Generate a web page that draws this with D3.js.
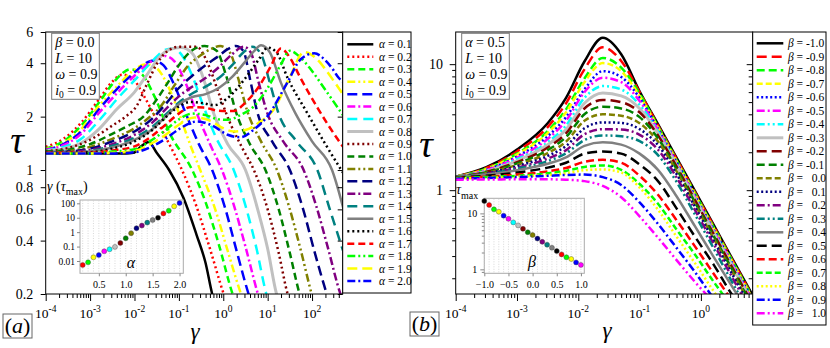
<!DOCTYPE html>
<html>
<head>
<meta charset="utf-8">
<script src="https://cdn.jsdelivr.net/npm/d3@7/dist/d3.min.js"></script>
<style>
  body { margin: 0; background: #fff; }
  svg { display: block; }
  text { font-family: "Liberation Serif", "Times New Roman", serif; fill: #000; }
</style>
</head>
<body>
<svg></svg>
<script>
// ---------- data, panel (a): tau vs gamma, points are [log10(gamma), tau] ----------
const alphas = [0.1, 0.2, 0.3, 0.4, 0.5, 0.6, 0.7, 0.8, 0.9, 1.0,
                1.1, 1.2, 1.3, 1.4, 1.5, 1.6, 1.7, 1.8, 1.9, 2.0];

const tauA01 = [[-4,1.24],[-3,1.24],[-2.2,1.24],[-2.02,1.25],[-1.85,1.36],[-1.68,1.44],[-1.5,1.25],[-1.22,1.0],[-0.9,0.7],[-0.6,0.43],[-0.4,0.3],[-0.25,0.2],[-0.1,0.15]];
const tauA02 = [[-4,1.35],[-3.6,1.5],[-3.2,1.85],[-2.8,2.5],[-2.5,3.15],[-2.28,3.45],[-2.05,3.3],[-1.8,2.65],[-1.42,1.75],[-1.15,1.3],[-0.93,1.0],[-0.6,0.62],[-0.3,0.36],[0.01,0.2],[0.15,0.16]];
const tauA03 = [[-4,1.32],[-3.6,1.45],[-3.2,1.78],[-2.8,2.4],[-2.5,3.05],[-2.25,3.55],[-2.09,3.7],[-1.85,3.5],[-1.55,2.6],[-1.2,1.6],[-0.7,1.0],[-0.4,0.66],[-0.1,0.38],[0.21,0.2],[0.35,0.16]];
const tauA04 = [[-4,1.31],[-3.6,1.42],[-3.2,1.7],[-2.8,2.3],[-2.4,2.95],[-2.05,3.6],[-1.74,3.95],[-1.5,3.75],[-1.25,3.0],[-1.0,2.1],[-0.75,1.4],[-0.52,1.0],[-0.2,0.62],[0.1,0.35],[0.4,0.2],[0.55,0.16]];
const tauA05 = [[-4,1.3],[-3.6,1.4],[-3.2,1.65],[-2.8,2.2],[-2.4,2.85],[-2.0,3.55],[-1.75,4.0],[-1.58,4.15],[-1.35,3.9],[-1.1,3.0],[-0.85,2.1],[-0.55,1.4],[-0.25,1.0],[0.05,0.6],[0.3,0.35],[0.57,0.2],[0.7,0.16]];
const tauA06 = [[-4,1.3],[-3.6,1.38],[-3.2,1.6],[-2.8,2.1],[-2.4,2.7],[-2.0,3.4],[-1.65,4.05],[-1.33,4.4],[-1.1,4.1],[-0.85,3.1],[-0.6,2.1],[-0.3,1.4],[-0.03,1.0],[0.25,0.62],[0.5,0.37],[0.78,0.2],[0.9,0.16]];
const tauA07 = [[-4,1.29],[-3.6,1.35],[-3.2,1.5],[-2.8,1.9],[-2.4,2.5],[-2.0,3.2],[-1.6,4.1],[-1.35,4.7],[-1.15,4.85],[-0.95,4.5],[-0.7,3.4],[-0.45,2.3],[-0.15,1.5],[0.235,1.0],[0.5,0.63],[0.75,0.36],[0.97,0.2],[1.1,0.16]];
const tauA08 = [[-4,1.28],[-3.6,1.32],[-3.2,1.42],[-2.8,1.7],[-2.4,2.2],[-2.0,2.75],[-1.7,3.5],[-1.45,4.3],[-1.2,4.8],[-0.95,4.9],[-0.7,4.55],[-0.45,3.3],[-0.22,2.1],[0.1,1.4],[0.5,1.0],[0.8,0.57],[1.0,0.36],[1.2,0.2],[1.35,0.16]];
const tauA09 = [[-4,1.28],[-3.5,1.33],[-3,1.48],[-2.5,1.78],[-2.2,2.0],[-1.95,2.3],[-1.72,3.05],[-1.5,3.95],[-1.27,4.65],[-1.0,4.95],[-0.6,4.95],[-0.35,4.0],[-0.1,2.7],[0.15,1.85],[0.45,1.3],[0.69,1.0],[1.0,0.6],[1.25,0.34],[1.45,0.2],[1.6,0.16]];
const tauA10 = [[-4,1.27],[-3.5,1.3],[-3,1.4],[-2.5,1.6],[-2.1,1.8],[-1.8,2.0],[-1.5,2.5],[-1.27,3.05],[-1.0,3.9],[-0.74,4.65],[-0.42,5.0],[-0.15,4.7],[0.05,3.5],[0.28,2.15],[0.6,1.4],[0.95,1.0],[1.25,0.6],[1.5,0.34],[1.72,0.2],[1.85,0.16]];
const tauA11 = [[-4,1.26],[-3.5,1.28],[-3,1.35],[-2.5,1.5],[-2,1.72],[-1.7,1.95],[-1.4,2.3],[-1.1,3.0],[-0.8,3.85],[-0.5,4.45],[-0.25,4.85],[-0.07,5.0],[0.15,4.6],[0.35,3.2],[0.54,2.15],[0.85,1.45],[1.21,1.0],[1.5,0.6],[1.75,0.35],[1.99,0.2],[2.1,0.16]];
const tauA12 = [[-4,1.26],[-3.5,1.27],[-3,1.32],[-2.5,1.45],[-2,1.65],[-1.6,1.95],[-1.3,2.35],[-1.0,2.9],[-0.7,3.4],[-0.4,3.9],[-0.1,4.4],[0.1,4.8],[0.28,5.0],[0.45,4.7],[0.62,3.1],[0.76,2.15],[1.1,1.45],[1.5,1.0],[1.8,0.6],[2.05,0.35],[2.33,0.2],[2.45,0.16]];
const tauA13 = [[-4,1.25],[-3.5,1.26],[-3,1.3],[-2.5,1.4],[-2,1.58],[-1.6,1.85],[-1.3,2.2],[-1.0,2.6],[-0.7,2.95],[-0.4,3.3],[-0.1,3.8],[0.2,4.5],[0.46,4.95],[0.62,4.6],[0.8,3.1],[0.99,2.1],[1.35,1.45],[1.81,1.0],[2.1,0.62],[2.35,0.37],[2.64,0.2],[2.75,0.17]];
const tauA14 = [[-4,1.25],[-3.5,1.25],[-3,1.28],[-2.5,1.37],[-2,1.52],[-1.6,1.75],[-1.3,2.05],[-1.0,2.4],[-0.7,2.7],[-0.4,2.95],[-0.1,3.3],[0.2,3.9],[0.45,4.6],[0.66,4.95],[0.85,4.5],[1.05,3.1],[1.24,2.1],[1.65,1.45],[2.12,1.0],[2.4,0.6],[2.75,0.32]];
const tauA15 = [[-4,1.25],[-3.5,1.25],[-3,1.27],[-2.5,1.34],[-2,1.48],[-1.6,1.7],[-1.3,2.0],[-1.0,2.35],[-0.7,2.58],[-0.4,2.68],[-0.1,2.9],[0.2,3.35],[0.5,4.1],[0.7,4.7],[0.85,5.05],[1.05,4.6],[1.3,3.1],[1.62,2.1],[2.0,1.45],[2.45,1.0],[2.75,0.55]];
const tauA16 = [[-4,1.25],[-3.5,1.25],[-3,1.26],[-2.5,1.32],[-2,1.45],[-1.6,1.68],[-1.3,1.98],[-1.0,2.28],[-0.75,2.42],[-0.45,2.38],[-0.2,2.32],[0.1,2.55],[0.5,3.3],[0.8,4.2],[1.0,4.9],[1.2,4.6],[1.45,3.3],[1.89,2.1],[2.3,1.4],[2.75,0.92]];
const tauA17 = [[-4,1.25],[-3,1.25],[-2.5,1.29],[-2,1.36],[-1.6,1.56],[-1.3,1.8],[-1.0,2.08],[-0.75,2.26],[-0.45,2.25],[-0.1,2.16],[0.23,2.15],[0.5,2.4],[0.76,2.85],[1.06,3.8],[1.3,4.85],[1.5,4.3],[1.74,3.3],[2.12,2.25],[2.57,1.5],[2.75,1.3]];
const tauA18 = [[-4,1.24],[-3,1.24],[-2.5,1.27],[-2,1.31],[-1.6,1.48],[-1.3,1.68],[-1.0,1.93],[-0.7,2.08],[-0.4,2.04],[-0.1,1.93],[0.1,1.92],[0.4,2.05],[0.7,2.3],[1.0,2.9],[1.29,3.9],[1.5,4.7],[1.7,4.4],[1.97,3.7],[2.27,2.9],[2.75,1.95]];
const tauA19 = [[-4,1.24],[-3,1.24],[-2.5,1.25],[-2,1.28],[-1.6,1.42],[-1.3,1.58],[-1.0,1.8],[-0.65,1.98],[-0.3,1.9],[0.0,1.72],[0.23,1.65],[0.5,1.68],[0.8,1.85],[1.14,2.2],[1.5,3.35],[1.82,4.62],[2.05,4.35],[2.3,3.7],[2.5,3.15],[2.75,2.55]];
const tauA20 = [[-4,1.24],[-3,1.24],[-2.5,1.24],[-2,1.26],[-1.6,1.36],[-1.3,1.5],[-1.0,1.7],[-0.58,1.88],[-0.25,1.78],[0.1,1.58],[0.39,1.53],[0.7,1.7],[0.99,2.0],[1.44,3.1],[1.74,4.2],[2.05,4.55],[2.3,4.15],[2.45,3.75],[2.58,3.36],[2.75,3.05]];

// inset (a): gamma at tau_max vs alpha
const alphaDots = [0.2, 0.3, 0.4, 0.5, 0.6, 0.7, 0.8, 0.9, 1.0, 1.1, 1.2, 1.3, 1.4, 1.5, 1.6, 1.7, 1.8, 1.9, 2.0];
const gammaAtMax = [0.0053, 0.0081, 0.018, 0.026, 0.047, 0.065, 0.095, 0.18, 0.38, 0.85, 1.9, 2.9, 4.6, 7, 10, 20, 31, 62, 105];

// ---------- data, panel (b): tau on a shared log10(gamma) grid ----------
const betas = [-1.0, -0.9, -0.8, -0.7, -0.6, -0.5, -0.4, -0.3, -0.2, -0.1, 0.0,
               0.1, 0.2, 0.3, 0.4, 0.5, 0.6, 0.7, 0.8, 0.9, 1.0];
const logGammaB = [-4, -3.5, -3, -2.5, -2.2, -1.9, -1.6, -1.3, -1.0, -0.7, -0.4, -0.1, 0.2, 0.5, 0.85];

const tauBm10 = [1.28,1.52,2.1,3.4,5.4,10.5,16.2,12.0,6.1,3.34,1.82,0.99,0.54,0.293,0.145];
const tauBm09 = [1.28,1.5,2.03,3.17,4.89,9.1,13.6,10.6,6.0,3.27,1.78,0.97,0.527,0.287,0.142];
const tauBm08 = [1.28,1.48,1.95,2.94,4.38,7.7,11.2,9.4,5.85,3.2,1.74,0.95,0.516,0.282,0.139];
const tauBm07 = [1.28,1.47,1.92,2.84,4.15,7.2,10.2,8.8,5.6,3.14,1.71,0.93,0.506,0.276,0.136];
const tauBm06 = [1.27,1.45,1.85,2.67,3.8,6.3,8.8,7.9,5.4,3.07,1.68,0.91,0.496,0.27,0.133];
const tauBm05 = [1.27,1.44,1.81,2.55,3.56,6.0,7.8,7.2,5.1,3.0,1.64,0.89,0.486,0.265,0.13];
const tauBm04 = [1.27,1.42,1.76,2.4,3.26,5.4,6.7,6.3,4.75,2.92,1.61,0.875,0.476,0.26,0.128];
const tauBm03 = [1.27,1.41,1.71,2.29,3.03,4.9,5.9,5.6,4.45,2.82,1.58,0.857,0.466,0.254,0.125];
const tauBm02 = [1.27,1.4,1.67,2.18,2.82,4.45,5.2,5.0,4.15,2.72,1.55,0.84,0.457,0.25,0.123];
const tauBm01 = [1.27,1.39,1.63,2.08,2.64,4.0,4.6,4.45,3.8,2.58,1.48,0.807,0.44,0.24,0.118];
const tauB00  = [1.27,1.37,1.59,1.97,2.43,3.55,4.0,3.9,3.4,2.43,1.42,0.775,0.42,0.23,0.113];
const tauBp01 = [1.27,1.36,1.55,1.87,2.24,3.1,3.45,3.42,3.05,2.28,1.35,0.744,0.405,0.22,0.109];
const tauBp02 = [1.27,1.35,1.51,1.78,2.08,2.78,3.05,3.03,2.75,2.1,1.27,0.70,0.381,0.208,0.102];
const tauBp03 = [1.27,1.34,1.48,1.7,1.96,2.5,2.72,2.68,2.45,1.9,1.17,0.645,0.351,0.19,0.094];
const tauBp04 = [1.27,1.33,1.44,1.62,1.82,2.25,2.4,2.3,1.95,1.45,0.9,0.52,0.3,0.175,0.093];
const tauBp05 = [1.26,1.3,1.38,1.51,1.65,1.95,2.03,1.95,1.6,1.18,0.72,0.43,0.26,0.15,0.085];
const tauBp06 = [1.25,1.28,1.33,1.41,1.5,1.68,1.74,1.65,1.3,0.92,0.58,0.36,0.22,0.135,0.08];
const tauBp07 = [1.25,1.27,1.3,1.36,1.42,1.53,1.57,1.45,1.12,0.78,0.49,0.31,0.19,0.12,0.07];
const tauBp08 = [1.24,1.25,1.28,1.32,1.36,1.44,1.46,1.38,1.05,0.7,0.43,0.265,0.16,0.1,0.06];
const tauBp09 = [1.23,1.25,1.27,1.3,1.32,1.33,1.27,1.1,0.8,0.54,0.35,0.225,0.14,0.09,0.055];
const tauBp10 = [1.21,1.215,1.22,1.22,1.21,1.18,1.08,0.88,0.62,0.42,0.28,0.188,0.13,0.09,0.055];

// inset (b): tau_max vs beta
const betaDots = betas;
const tauAtMax = [16.6, 14.1, 11.8, 10.7, 9.1, 8.0, 6.9, 6.1, 5.3, 4.6, 4.1, 3.55, 3.1, 2.75, 2.43, 2.12, 1.85, 1.64, 1.53, 1.33, 1.2];

const seriesA = [tauA01, tauA02, tauA03, tauA04, tauA05, tauA06, tauA07, tauA08, tauA09, tauA10,
                 tauA11, tauA12, tauA13, tauA14, tauA15, tauA16, tauA17, tauA18, tauA19, tauA20];
const seriesB = [tauBm10, tauBm09, tauBm08, tauBm07, tauBm06, tauBm05, tauBm04, tauBm03, tauBm02, tauBm01, tauB00,
                 tauBp01, tauBp02, tauBp03, tauBp04, tauBp05, tauBp06, tauBp07, tauBp08, tauBp09, tauBp10];

// ---------- styles ----------
const palette = ["#000000", "#ff0000", "#00ff00", "#ffff00", "#0000ff", "#ff00ff", "#00ffff", "#c0c0c0",
                 "#800000", "#008000", "#808000", "#000080", "#800080", "#008080", "#808080"];
const dashA = ["", "2,3", "7,4", "8,3,2,3,2,3", "10,5", "8,3,2,3", "10,6"];
const dashB = ["", "10,5", "8,4", "6,3", "2,2.5", "8,3,2,3", "8,3,2,3,2,3"];
const colorOf = i => palette[i % 15];

const svg = d3.select("svg").attr("width", 830).attr("height", 348);
const defs = svg.append("defs");

function clipRect(id, x0, y0, x1, y1) {
  defs.append("clipPath").attr("id", id).append("rect")
    .attr("x", x0).attr("y", y0).attr("width", x1 - x0).attr("height", y1 - y0);
}

function logTicks(lo, hi) {
  const out = [];
  for (let e = Math.floor(Math.log10(lo)); e <= Math.ceil(Math.log10(hi)); e++) {
    for (let m = 1; m < 10; m++) {
      const v = m * Math.pow(10, e);
      if (v >= lo * 0.999 && v <= hi * 1.001) out.push(v);
    }
  }
  return out;
}
const isDecade = v => Math.abs(Math.log10(v) - Math.round(Math.log10(v))) < 1e-6;

function powerLabel(x, y, e) {
  const t = svg.append("text").attr("x", x).attr("y", y)
    .attr("text-anchor", "middle").attr("font-size", 13.5);
  t.append("tspan").text("10");
  t.append("tspan").attr("dy", -6).attr("font-size", 9.5).text(e);
}

function plainAxis(g) {
  g.select(".domain").remove();
  g.selectAll("line").attr("stroke", "#000");
  g.selectAll("text").attr("font-family", "Liberation Serif, serif").attr("fill", "#000");
}

// ================= panel (a) =================
const xA = d3.scaleLog().domain([1e-4, 490]).range([45.7, 342.7]);
const yA = d3.scaleLog().domain([0.2, 6]).range([294, 32]);
clipRect("clipA", 45.7, 32, 342.7, 294);

const lineA = d3.line()
  .x(d => xA(Math.pow(10, d[0])))
  .y(d => yA(d[1]))
  .curve(d3.curveMonotoneX);

const curvesA = svg.append("g").attr("clip-path", "url(#clipA)");
seriesA.forEach((pts, i) => {
  curvesA.append("path").datum(pts)
    .attr("d", lineA)
    .attr("fill", "none")
    .attr("stroke", colorOf(i))
    .attr("stroke-width", i === 7 ? 3 : 2.5)
    .attr("stroke-dasharray", dashA[i % 7]);
});

// x ticks (outward, below)
const ticksA = logTicks(1e-4, 490);
svg.append("g").attr("transform", "translate(0,294)")
  .call(d3.axisBottom(xA).tickValues(ticksA.filter(v => !isDecade(v))).tickSize(4).tickFormat(""))
  .call(plainAxis);
svg.append("g").attr("transform", "translate(0,294)")
  .call(d3.axisBottom(xA).tickValues(ticksA.filter(isDecade)).tickSize(7).tickFormat(""))
  .call(plainAxis);
[-4, -3, -2, -1, 0, 1, 2].forEach(e => powerLabel(xA(Math.pow(10, e)), 318, e));

// y ticks
const yTicksA = [0.2, 0.4, 0.6, 0.8, 1, 2, 4, 6];
svg.append("g").attr("transform", "translate(45.7,0)")
  .call(d3.axisLeft(yA).tickValues(yTicksA).tickSize(5).tickPadding(7.5).tickFormat(d3.format("")))
  .call(plainAxis)
  .call(g => g.selectAll("text").attr("font-size", 14));
svg.append("g").attr("transform", "translate(342.7,0)")
  .call(d3.axisRight(yA).tickValues(yTicksA).tickSize(-5).tickFormat(""))
  .call(plainAxis);

svg.append("rect").attr("x", 45.7).attr("y", 32).attr("width", 297).attr("height", 262)
  .attr("fill", "none").attr("stroke", "#000").attr("stroke-width", 1);

// parameter box
function paramBox(x0, lines) {
  svg.append("rect").attr("x", x0).attr("y", 33.3).attr("width", 47.6).attr("height", 66)
    .attr("fill", "#fff").attr("stroke", "#777").attr("stroke-width", 1);
  const base = [46.5, 62.5, 78.5, 94.5];
  lines.forEach((ln, k) => {
    const t = svg.append("text").attr("x", x0 + 3.5).attr("y", base[k]).attr("font-size", 14);
    t.append("tspan").attr("font-style", "italic").text(ln[0]);
    if (ln[1]) t.append("tspan").attr("dy", 3).attr("font-size", 9.5).text(ln[1]);
    t.append("tspan").attr("dy", ln[1] ? -3 : 0).text(" = " + ln[2]);
  });
}
paramBox(51.7, [["β", "", "0.0"], ["L", "", "10"], ["ω", "", "0.9"], ["i", "0", "0.9"]]);

// legend (a)
svg.append("rect").attr("x", 342.7).attr("y", 32).attr("width", 68.3).attr("height", 261)
  .attr("fill", "#fff").attr("stroke", "#000").attr("stroke-width", 1);
alphas.forEach((a, i) => {
  const y = 44.3 + i * 12.46;
  svg.append("line").attr("x1", 347.3).attr("x2", 373.3).attr("y1", y).attr("y2", y)
    .attr("stroke", colorOf(i)).attr("stroke-width", i === 7 ? 3 : 2.5)
    .attr("stroke-dasharray", dashA[i % 7]);
  const t = svg.append("text").attr("x", 379).attr("y", y + 4).attr("font-size", 11.5);
  t.append("tspan").attr("font-style", "italic").text("α");
  t.append("tspan").text(" = " + a.toFixed(1));
});

// inset (a)
const xIa = d3.scaleLinear().domain([0.15, 2.07]).range([80, 183.3]);
const yIa = d3.scaleLog().domain([0.0014, 170]).range([273.3, 200]);
svg.append("rect").attr("x", 80).attr("y", 200).attr("width", 103.3).attr("height", 73.3)
  .attr("fill", "#fff").attr("stroke", "#aaa").attr("stroke-width", 1);
svg.append("g").selectAll("line").data(d3.range(2, 21).map(k => k / 10)).join("line")
  .attr("x1", d => xIa(d)).attr("x2", d => xIa(d)).attr("y1", 200.5).attr("y2", 272.8)
  .attr("stroke", "#c8c8c8").attr("stroke-width", 0.7).attr("stroke-dasharray", "1,1.5");
svg.append("g").attr("transform", "translate(80,0)")
  .call(d3.axisLeft(yIa).tickValues([0.01, 0.1, 1, 10, 100]).tickSize(3).tickPadding(2)
    .tickFormat(d => d >= 1 ? d3.format("d")(d) : String(d)))
  .call(plainAxis)
  .call(g => g.selectAll("text").attr("font-size", 9.5))
  .call(g => g.selectAll("line").attr("stroke", "#888"));
svg.append("g").attr("transform", "translate(0,273.3)")
  .call(d3.axisBottom(xIa).tickValues([0.5, 1.0, 1.5, 2.0]).tickSize(3).tickPadding(5)
    .tickFormat(d3.format(".1f")))
  .call(plainAxis)
  .call(g => g.selectAll("text").attr("font-size", 10))
  .call(g => g.selectAll("line").attr("stroke", "#888"));
svg.append("g").selectAll("circle").data(alphaDots).join("circle")
  .attr("cx", d => xIa(d)).attr("cy", (d, i) => yIa(gammaAtMax[i])).attr("r", 2.5)
  .attr("fill", (d, i) => colorOf(i + 1)).attr("stroke", "#444").attr("stroke-width", 0.4);
{
  const t = svg.append("text").attr("x", 47).attr("y", 191).attr("font-size", 14);
  t.append("tspan").attr("font-style", "italic").text("γ");
  t.append("tspan").text(" (");
  t.append("tspan").attr("font-style", "italic").text("τ");
  t.append("tspan").attr("dy", 4).attr("font-size", 10).text("max");
  t.append("tspan").attr("dy", -4).text(")");
}
svg.append("text").attr("x", 131).attr("y", 268).attr("text-anchor", "middle")
  .attr("font-size", 16).attr("font-style", "italic").text("α");

// axis titles (a)
svg.append("text").attr("x", 17).attr("y", 153).attr("text-anchor", "middle")
  .attr("font-size", 38).attr("font-style", "italic").text("τ");
svg.append("text").attr("x", 195).attr("y", 339).attr("text-anchor", "middle")
  .attr("font-size", 23).attr("font-style", "italic").text("γ");

function panelTag(x0, y0, letter) {
  svg.append("rect").attr("x", x0).attr("y", y0).attr("width", 29).attr("height", 24)
    .attr("fill", "#fff").attr("stroke", "#666").attr("stroke-width", 1);
  const t = svg.append("text").attr("x", x0 + 14.5).attr("y", y0 + 19).attr("text-anchor", "middle")
    .attr("font-size", 22);
  t.append("tspan").text("(");
  t.append("tspan").attr("font-style", "italic").text(letter);
  t.append("tspan").text(")");
}
panelTag(3, 314, "a");

// ================= panel (b) =================
const xB = d3.scaleLog().domain([1e-4, 7]).range([455.7, 752.7]);
const yB = d3.scaleLog().domain([0.15, 18]).range([294, 32]);
clipRect("clipB", 455.7, 32, 752.7, 294);

const lineB = d3.line()
  .x(d => xB(Math.pow(10, d[0])))
  .y(d => yB(d[1]))
  .curve(d3.curveMonotoneX);

const curvesB = svg.append("g").attr("clip-path", "url(#clipB)");
seriesB.forEach((vals, i) => {
  curvesB.append("path").datum(logGammaB.map((g, j) => [g, vals[j]]))
    .attr("d", lineB)
    .attr("fill", "none")
    .attr("stroke", colorOf(i))
    .attr("stroke-width", (i === 7) ? 3 : 2.5)
    .attr("stroke-dasharray", dashB[i % 7]);
});

const ticksB = logTicks(1e-4, 7);
svg.append("g").attr("transform", "translate(0,294)")
  .call(d3.axisBottom(xB).tickValues(ticksB.filter(v => !isDecade(v))).tickSize(4).tickFormat(""))
  .call(plainAxis);
svg.append("g").attr("transform", "translate(0,294)")
  .call(d3.axisBottom(xB).tickValues(ticksB.filter(isDecade)).tickSize(7).tickFormat(""))
  .call(plainAxis);
[-4, -3, -2, -1, 0].forEach(e => powerLabel(xB(Math.pow(10, e)), 318, e));

const yTicksB = logTicks(0.15, 18);
svg.append("g").attr("transform", "translate(455.7,0)")
  .call(d3.axisLeft(yB).tickValues(yTicksB.filter(v => !isDecade(v))).tickSize(3.5).tickFormat(""))
  .call(plainAxis);
svg.append("g").attr("transform", "translate(455.7,0)")
  .call(d3.axisLeft(yB).tickValues([1, 10]).tickSize(6).tickPadding(6.7).tickFormat(d3.format("d")))
  .call(plainAxis)
  .call(g => g.selectAll("text").attr("font-size", 14));
svg.append("g").attr("transform", "translate(752.7,0)")
  .call(d3.axisRight(yB).tickValues(yTicksB.filter(v => !isDecade(v))).tickSize(-4).tickFormat(""))
  .call(plainAxis);
svg.append("g").attr("transform", "translate(752.7,0)")
  .call(d3.axisRight(yB).tickValues([1, 10]).tickSize(-6).tickFormat(""))
  .call(plainAxis);

svg.append("rect").attr("x", 455.7).attr("y", 32).attr("width", 297).attr("height", 262)
  .attr("fill", "none").attr("stroke", "#000").attr("stroke-width", 1);

paramBox(461.7, [["α", "", "0.5"], ["L", "", "10"], ["ω", "", "0.9"], ["i", "0", "0.9"]]);

// legend (b)
svg.append("rect").attr("x", 752.7).attr("y", 32).attr("width", 73.3).attr("height", 293)
  .attr("fill", "#fff").attr("stroke", "#000").attr("stroke-width", 1);
betas.forEach((b, i) => {
  const y = 43.3 + i * 13.5;
  svg.append("line").attr("x1", 756.7).attr("x2", 783.3).attr("y1", y).attr("y2", y)
    .attr("stroke", colorOf(i)).attr("stroke-width", i === 7 ? 3 : 2.5)
    .attr("stroke-dasharray", dashB[i % 7]);
  const t = svg.append("text").attr("x", 788).attr("y", y + 4).attr("font-size", 11.5);
  t.append("tspan").attr("font-style", "italic").text("β");
  t.append("tspan").text(" = " + (b < 0 ? "-" : "\u2007") + Math.abs(b).toFixed(1));
});

// inset (b)
const xIb = d3.scaleLinear().domain([-1.0, 1.07]).range([484.3, 584.3]);
const yIb = d3.scaleLog().domain([0.85, 18.6]).range([273.3, 198.3]);
svg.append("rect").attr("x", 484.3).attr("y", 198.3).attr("width", 100).attr("height", 75)
  .attr("fill", "#fff").attr("stroke", "#aaa").attr("stroke-width", 1);
svg.append("g").selectAll("line").data(d3.range(-10, 11).map(k => k / 10)).join("line")
  .attr("x1", d => xIb(d)).attr("x2", d => xIb(d)).attr("y1", 198.8).attr("y2", 272.8)
  .attr("stroke", "#c8c8c8").attr("stroke-width", 0.7).attr("stroke-dasharray", "1,1.5");
svg.append("g").attr("transform", "translate(484.3,0)")
  .call(d3.axisLeft(yIb).tickValues(logTicks(0.85, 18.6).filter(v => !isDecade(v))).tickSize(2.5).tickFormat(""))
  .call(plainAxis)
  .call(g => g.selectAll("line").attr("stroke", "#888"));
svg.append("g").attr("transform", "translate(484.3,0)")
  .call(d3.axisLeft(yIb).tickValues([1, 10]).tickSize(4).tickPadding(3).tickFormat(d3.format("d")))
  .call(plainAxis)
  .call(g => g.selectAll("text").attr("font-size", 10))
  .call(g => g.selectAll("line").attr("stroke", "#888"));
svg.append("g").attr("transform", "translate(0,273.3)")
  .call(d3.axisBottom(xIb).tickValues([-1.0, -0.5, 0.0, 0.5, 1.0]).tickSize(3).tickPadding(5)
    .tickFormat(d3.format(".1f")))
  .call(plainAxis)
  .call(g => g.selectAll("text").attr("font-size", 10))
  .call(g => g.selectAll("line").attr("stroke", "#888"));
svg.append("g").selectAll("circle").data(betaDots).join("circle")
  .attr("cx", d => xIb(d)).attr("cy", (d, i) => yIb(tauAtMax[i])).attr("r", 2.5)
  .attr("fill", (d, i) => colorOf(i)).attr("stroke", "#444").attr("stroke-width", 0.4);
{
  const t = svg.append("text").attr("x", 456).attr("y", 194).attr("font-size", 14);
  t.append("tspan").attr("font-style", "italic").text("τ");
  t.append("tspan").attr("dy", 5).attr("font-size", 10).text("max");
}
svg.append("text").attr("x", 532).attr("y", 267).attr("text-anchor", "middle")
  .attr("font-size", 16).attr("font-style", "italic").text("β");

svg.append("text").attr("x", 426).attr("y", 157).attr("text-anchor", "middle")
  .attr("font-size", 38).attr("font-style", "italic").text("τ");
svg.append("text").attr("x", 607).attr("y", 338).attr("text-anchor", "middle")
  .attr("font-size", 23).attr("font-style", "italic").text("γ");
panelTag(410, 312, "b");
</script>
</body>
</html>
